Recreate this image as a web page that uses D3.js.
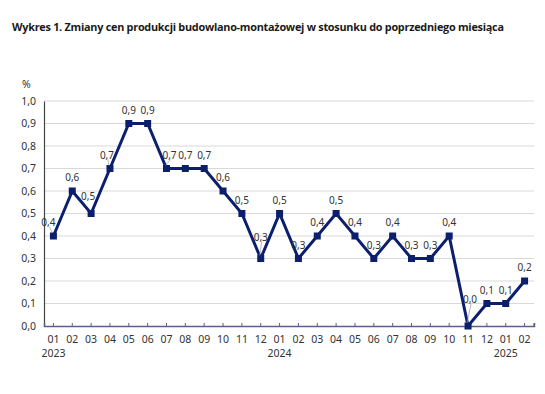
<!DOCTYPE html>
<html>
<head>
<meta charset="utf-8">
<script src="https://cdn.jsdelivr.net/npm/d3@7"></script>
<style>
  body { margin: 0; background: #fff; }
  svg { display: block; }
</style>
</head>
<body>
<svg id="chart" width="545" height="394"></svg>
<script>
const months = ['01','02','03','04','05','06','07','08','09','10','11','12',
  '01','02','03','04','05','06','07','08','09','10','11','12','01','02'];
const years = ['2023','','','','','','','','','','','',
  '2024','','','','','','','','','','','','2025',''];
const values = [0.4,0.6,0.5,0.7,0.9,0.9,0.7,0.7,0.7,0.6,0.5,0.3,
  0.5,0.3,0.4,0.5,0.4,0.3,0.4,0.3,0.3,0.4,0.0,0.1,0.1,0.2];
const yTicks = [0,0.1,0.2,0.3,0.4,0.5,0.6,0.7,0.8,0.9,1.0];

// label nudges (index -> [dx, dy, leader line])
const labelShift = {
  0: [-5, 0, true],
  2: [-3, -4, false],
  3: [-3, 0, true],
  6: [3, 0, true],
  11: [0, -8, true],
  22: [2, -13, true]
};

const style = {
  fontFamily: '"Noto Sans", "Open Sans", sans-serif',
  lineColor: '#0c1f6d',
  lineWidth: 3,
  marker: 7,
  gridColor: '#d9d9d9',
  axisColor: '#5b5f8e',
  textColor: '#333',
  tickSize: '10.5px'
};

const svg = d3.select('#chart');
const m = { left: 44, right: 11, top: 101, bottom: 68 };
const W = 545, H = 394;

const idx = d3.range(values.length);
const x = d3.scaleBand().domain(idx).range([m.left, W - m.right]);
const cx = i => x(i) + x.bandwidth() / 2;
const y = d3.scaleLinear().domain([0, 1]).range([H - m.bottom, m.top]);
const fmt = v => d3.format('.1f')(v).replace('.', ',');

// title, sized so that it spans the same width as the original
const title = svg.append('text')
  .attr('x', 12).attr('y', 31)
  .attr('font-family', '"Open Sans", sans-serif')
  .attr('font-weight', 'bold')
  .attr('font-size', '12px')
  .attr('letter-spacing', '-0.25px')
  .attr('fill', '#1a1a1a')
  .text('Wykres 1. Zmiany cen produkcji budowlano-montażowej w stosunku do poprzedniego miesiąca');
const tl = title.node().getComputedTextLength();
title.attr('font-size', (12 * 494 / tl).toFixed(2) + 'px');

// unit
svg.append('text')
  .attr('x', 22).attr('y', 88)
  .attr('font-family', style.fontFamily)
  .attr('font-size', style.tickSize)
  .attr('fill', style.textColor)
  .text('%');

// gridlines
svg.append('g')
  .selectAll('line')
  .data(yTicks.filter(t => t > 0))
  .join('line')
    .attr('x1', m.left).attr('x2', W - m.right)
    .attr('y1', d => y(d)).attr('y2', d => y(d))
    .attr('stroke', style.gridColor)
    .attr('stroke-width', 1);

// y axis
const yAxis = svg.append('g')
  .attr('transform', `translate(${m.left},0)`)
  .call(d3.axisLeft(y).tickValues(yTicks).tickFormat(fmt).tickSize(0).tickPadding(8));
yAxis.select('.domain').attr('stroke', '#444').attr('stroke-width', 1.2);
yAxis.selectAll('.tick text')
  .attr('fill', style.textColor)
  .style('font-size', style.tickSize)
  .style('font-family', style.fontFamily);

// x axis
const xAxis = svg.append('g')
  .attr('transform', `translate(0,${y(0)})`)
  .call(d3.axisBottom(x).tickFormat(i => months[i]).tickSize(-3).tickPadding(10));
xAxis.select('.domain').attr('stroke', style.axisColor).attr('stroke-width', 1.5);
xAxis.selectAll('.tick line').attr('stroke', style.axisColor);
xAxis.selectAll('.tick text')
  .attr('fill', style.textColor)
  .style('font-size', style.tickSize)
  .style('font-family', style.fontFamily);
xAxis.append('line')
  .attr('x1', W - m.right).attr('x2', W - m.right)
  .attr('y1', 0).attr('y2', -3)
  .attr('stroke', style.axisColor);

// years
svg.append('g')
  .selectAll('text')
  .data(idx.filter(i => years[i]))
  .join('text')
    .attr('x', cx).attr('y', y(0) + 31)
    .attr('text-anchor', 'middle')
    .attr('font-family', style.fontFamily)
    .attr('font-size', style.tickSize)
    .attr('fill', style.textColor)
    .text(i => years[i]);

// line
svg.append('path')
  .datum(idx)
  .attr('d', d3.line().x(cx).y(i => y(values[i])))
  .attr('fill', 'none')
  .attr('stroke', style.lineColor)
  .attr('stroke-width', style.lineWidth)
  .attr('stroke-linejoin', 'miter');

// markers
svg.append('g')
  .selectAll('rect')
  .data(idx)
  .join('rect')
    .attr('x', i => cx(i) - style.marker / 2)
    .attr('y', i => y(values[i]) - style.marker / 2)
    .attr('width', style.marker).attr('height', style.marker)
    .attr('fill', style.lineColor);

// leader lines
svg.append('g')
  .selectAll('line')
  .data(idx.filter(i => labelShift[i] && labelShift[i][2]))
  .join('line')
    .attr('x1', i => cx(i) + labelShift[i][0] + 1)
    .attr('y1', i => y(values[i]) - 9 + labelShift[i][1])
    .attr('x2', i => cx(i) - 1)
    .attr('y2', i => y(values[i]) - 3)
    .attr('stroke', '#999')
    .attr('stroke-width', 0.7);

// data labels
svg.append('g')
  .selectAll('text')
  .data(idx)
  .join('text')
    .attr('x', i => cx(i) + (labelShift[i] ? labelShift[i][0] : 0))
    .attr('y', i => y(values[i]) - 10 + (labelShift[i] ? labelShift[i][1] : 0))
    .attr('text-anchor', 'middle')
    .attr('font-family', style.fontFamily)
    .attr('font-size', '10px')
    .attr('fill', style.textColor)
    .text(i => fmt(values[i]));
</script>
</body>
</html>
